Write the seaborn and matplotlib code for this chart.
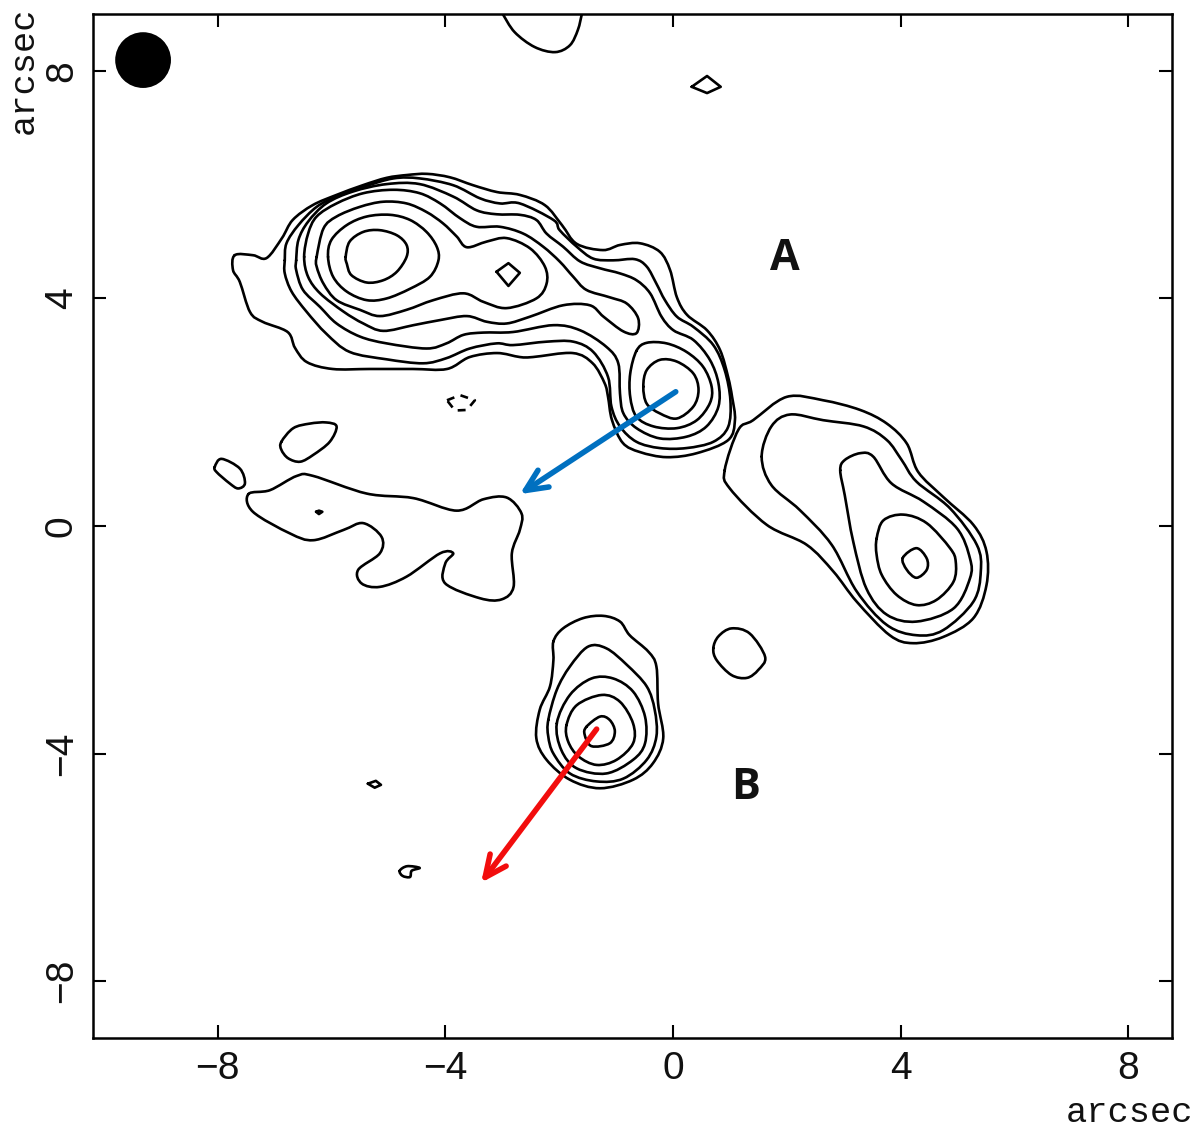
import numpy as np
import pandas as pd
import matplotlib.pyplot as plt
from matplotlib.patches import Circle
from matplotlib.path import Path
from matplotlib.patheffects import AbstractPathEffect
import seaborn as sns

# Contours, in arcsec
lobe_1 = [(-7.70,4.76),(-7.73,4.50),(-7.61,4.29),(-7.43,3.76),(-7.21,3.59),(-6.77,3.41),(-6.64,3.13),(-6.43,2.88),
          (-5.98,2.76),(-5.33,2.76),(-4.57,2.76),(-3.97,2.76),(-3.57,2.97),(-3.09,3.04),(-2.69,2.97),(-2.46,2.97),
          (-1.76,3.04),(-1.41,2.86),(-1.20,2.51),(-1.14,2.27),(-1.07,1.86),(-0.88,1.46),(-0.58,1.30),(-0.11,1.21),
          (0.42,1.28),(0.97,1.51),(1.09,1.86),(1.04,2.27),(0.97,2.62),(0.83,3.09),(0.60,3.44),(0.25,3.71),(0.07,4.02),
          (-0.05,4.50),(-0.23,4.82),(-0.58,4.97),(-0.93,4.94),(-1.23,4.85),(-1.69,4.96),(-1.95,5.29),(-2.25,5.64),
          (-2.69,5.82),(-3.09,5.87),(-3.51,5.99),(-3.92,6.13),(-4.32,6.19),(-4.67,6.17),(-5.03,6.12),(-5.45,5.99),
          (-5.91,5.82),(-6.33,5.64),(-6.68,5.38),(-6.87,5.06),(-7.14,4.71),(-7.38,4.76)]
lobe_2 = [(-6.82,4.67),(-6.79,4.97),(-6.58,5.29),(-6.26,5.61),(-5.91,5.79),(-5.44,5.96),(-4.91,6.11),(-4.45,6.11),
          (-3.86,5.99),(-3.39,5.76),(-3.04,5.67),(-2.69,5.67),(-2.10,5.38),(-1.99,5.20),(-1.69,4.91),(-1.40,4.70),
          (-1.05,4.67),(-0.67,4.69),(-0.46,4.56),(-0.29,4.26),(-0.14,3.97),(0.07,3.68),(0.36,3.50),(0.71,3.18),
          (0.91,2.74),(1.01,2.21),(0.97,1.74),(0.71,1.48),(0.24,1.37),(-0.23,1.37),(-0.64,1.48),(-0.93,1.75),
          (-1.08,2.10),(-1.14,2.62),(-1.40,3.06),(-1.75,3.24),(-2.22,3.24),(-2.81,3.18),(-3.10,3.21),(-3.57,3.12),
          (-3.98,2.95),(-4.39,2.86),(-5.03,2.93),(-5.68,3.06),(-6.09,3.38),(-6.44,3.77),(-6.70,4.12),(-6.82,4.44)]
lobe_3 = [(-6.62,4.67),(-6.58,5.03),(-6.41,5.35),(-6.09,5.67),(-5.62,5.88),(-5.03,6.01),(-4.45,6.01),(-3.86,5.79),
          (-3.45,5.55),(-3.10,5.48),(-2.69,5.47),(-2.40,5.38),(-2.22,5.14),(-1.93,4.91),(-1.63,4.65),(-1.28,4.53),
          (-0.93,4.44),(-0.64,4.32),(-0.40,4.09),(-0.20,3.68),(0.01,3.44),(0.36,3.27),(0.65,2.92),(0.80,2.51),
          (0.80,2.10),(0.59,1.75),(0.24,1.57),(-0.23,1.54),(-0.64,1.72),(-0.87,1.98),(-0.93,2.33),(-0.96,2.86),
          (-1.17,3.15),(-1.63,3.44),(-2.10,3.53),(-2.81,3.41),(-3.33,3.40),(-3.68,3.36),(-3.98,3.21),(-4.33,3.12),
          (-5.03,3.21),(-5.50,3.33),(-5.91,3.56),(-6.20,3.85),(-6.50,4.15),(-6.62,4.50)]
lobe_4 = [(-6.48,4.73),(-6.41,5.14),(-6.26,5.44),(-5.91,5.67),(-5.44,5.85),(-4.91,5.91),(-4.45,5.85),(-4.09,5.67),
          (-3.74,5.41),(-3.45,5.26),(-3.04,5.26),(-2.63,5.14),(-2.28,4.91),(-1.99,4.65),(-1.75,4.38),(-1.52,4.15),
          (-1.11,4.02),(-0.81,3.91),(-0.61,3.65),(-0.64,3.39),(-0.87,3.42),(-1.22,3.68),(-1.46,3.88),(-1.93,3.88),
          (-2.51,3.68),(-2.92,3.56),(-3.27,3.59),(-3.62,3.69),(-4.09,3.62),(-4.56,3.53),(-5.09,3.43),(-5.44,3.56),
          (-5.79,3.77),(-6.20,4.09),(-6.41,4.38)]
lobe_5 = [(-6.26,4.73),(-6.14,5.23),(-5.91,5.44),(-5.50,5.61),(-5.09,5.70),(-4.68,5.67),(-4.33,5.52),(-4.04,5.32),
          (-3.80,5.09),(-3.62,4.90),(-3.27,5.00),(-2.92,5.06),(-2.51,4.88),(-2.25,4.56),(-2.22,4.26),(-2.40,4.00),
          (-2.92,3.83),(-3.33,3.94),(-3.68,4.09),(-4.21,3.97),(-4.68,3.80),(-5.15,3.69),(-5.50,3.80),(-5.91,3.97),
          (-6.14,4.26),(-6.26,4.56)]
lobe_6 = [(-6.06,4.73),(-6.00,5.03),(-5.73,5.29),(-5.38,5.44),(-4.97,5.47),(-4.62,5.38),(-4.33,5.17),(-4.15,4.91),
          (-4.12,4.67),(-4.27,4.38),(-4.62,4.17),(-5.03,4.00),(-5.38,3.97),(-5.73,4.12),(-5.97,4.38)]
lobe_7 = [(-5.75,4.73),(-5.68,5.00),(-5.44,5.17),(-5.15,5.20),(-4.85,5.11),(-4.68,4.94),(-4.68,4.73),(-4.85,4.47),
          (-5.09,4.32),(-5.38,4.28),(-5.65,4.41),(-5.73,4.61)]
lobe_diamond = [(-3.10,4.47),(-2.89,4.62),(-2.69,4.45),(-2.89,4.22)]
core_1 = [(-0.64,3.08),(-0.46,3.22),(-0.11,3.21),(0.24,3.06),(0.53,2.80),(0.68,2.45),(0.65,2.16),(0.42,1.86),
          (0.07,1.72),(-0.34,1.75),(-0.64,1.92),(-0.75,2.27),(-0.75,2.68)]
core_2 = [(-0.52,2.45),(-0.46,2.74),(-0.23,2.92),(0.07,2.89),(0.36,2.68),(0.45,2.39),(0.36,2.10),(0.07,1.89),
          (-0.23,1.98),(-0.46,2.15)]
east_1 = [(0.91,0.98),(1.15,1.69),(1.41,1.86),(2.00,2.27),(2.64,2.21),(3.29,2.04),(3.76,1.80),(4.11,1.45),(4.31,0.95),
          (4.75,0.51),(5.28,0.02),(5.51,-0.45),(5.51,-1.04),(5.28,-1.62),(4.75,-1.95),(4.22,-2.06),(3.81,-1.92),
          (3.23,-1.33),(2.82,-0.80),(2.35,-0.33),(1.65,0.02),(1.00,0.66)]
east_2 = [(1.56,1.22),(1.73,1.75),(2.06,1.96),(2.64,1.86),(3.35,1.75),(3.76,1.51),(4.02,1.16),(4.28,0.78),(4.87,0.31),
          (5.34,-0.33),(5.41,-0.80),(5.28,-1.33),(4.75,-1.83),(4.28,-1.92),(3.76,-1.74),(3.23,-1.15),(2.79,-0.33),
          (2.23,0.28),(1.73,0.72)]
east_3 = [(2.94,0.98),(3.02,1.16),(3.29,1.28),(3.52,1.22),(3.84,0.75),(4.40,0.43),(4.99,-0.04),(5.22,-0.57),
          (5.22,-0.92),(4.93,-1.45),(4.28,-1.68),(3.76,-1.56),(3.40,-1.10),(3.17,-0.28),(3.02,0.54)]
east_4 = [(3.58,-0.22),(3.70,0.10),(4.05,0.20),(4.46,0.05),(4.87,-0.39),(4.97,-0.63),(4.93,-0.98),(4.63,-1.30),
          (4.28,-1.39),(3.93,-1.21),(3.67,-0.86),(3.58,-0.51)]
east_5 = [(4.04,-0.56),(4.28,-0.39),(4.46,-0.57),(4.46,-0.77),(4.28,-0.91),(4.11,-0.77)]
west_blob = [(-7.46,0.56),(-7.08,0.63),(-6.61,0.88),(-6.32,0.88),(-5.38,0.57),(-4.56,0.49),(-3.80,0.27),(-3.33,0.47),
             (-2.92,0.50),(-2.66,0.22),(-2.69,-0.07),(-2.83,-0.48),(-2.80,-1.07),(-3.01,-1.29),(-3.39,-1.27),
             (-4.00,-1.01),(-4.00,-0.66),(-3.86,-0.48),(-4.09,-0.48),(-4.68,-0.89),(-5.15,-1.07),(-5.47,-1.01),
             (-5.53,-0.77),(-5.15,-0.48),(-5.12,-0.19),(-5.44,0.05),(-5.79,-0.07),(-6.32,-0.25),(-6.73,-0.13),(-7.38,0.25)]
west_small = [(-6.88,1.48),(-6.67,1.72),(-6.38,1.80),(-6.09,1.82),(-5.91,1.75),(-6.03,1.48),(-6.32,1.25),(-6.55,1.13),
              (-6.76,1.19),(-6.88,1.34)]
west_tiny = [(-8.05,1.04),(-7.93,1.18),(-7.61,1.01),(-7.52,0.75),(-7.64,0.66),(-7.79,0.75),(-8.02,0.95)]
west_dot = [(-6.27,0.25),(-6.22,0.27),(-6.16,0.25),(-6.22,0.21)]
b_1 = [(-2.10,-2.03),(-1.93,-1.80),(-1.58,-1.62),(-1.22,-1.58),(-0.93,-1.68),(-0.76,-1.92),(-0.43,-2.21),(-0.29,-2.47),
       (-0.26,-3.12),(-0.17,-3.73),(-0.35,-4.17),(-0.70,-4.46),(-1.28,-4.61),(-1.81,-4.46),(-2.22,-4.11),(-2.40,-3.73),
       (-2.34,-3.23),(-2.16,-2.82),(-2.10,-2.36)]
b_2 = [(-2.19,-3.41),(-2.04,-2.88),(-1.81,-2.47),(-1.49,-2.12),(-1.17,-2.15),(-0.81,-2.44),(-0.46,-2.82),(-0.32,-3.23),
       (-0.29,-3.70),(-0.46,-4.11),(-0.87,-4.44),(-1.34,-4.49),(-1.81,-4.35),(-2.10,-4.00),(-2.19,-3.70)]
b_3 = [(-2.04,-3.47),(-1.81,-2.97),(-1.43,-2.68),(-1.05,-2.68),(-0.70,-2.91),(-0.49,-3.35),(-0.49,-3.82),(-0.70,-4.11),
       (-1.17,-4.35),(-1.69,-4.26),(-1.96,-3.94)]
b_4 = [(-1.87,-3.50),(-1.69,-3.15),(-1.25,-2.97),(-0.93,-3.09),(-0.70,-3.47),(-0.70,-3.82),(-0.99,-4.11),(-1.34,-4.20),
       (-1.66,-4.05),(-1.84,-3.79)]
b_5 = [(-1.52,-3.53),(-1.28,-3.35),(-1.11,-3.41),(-1.02,-3.61),(-1.11,-3.82),(-1.43,-3.87),(-1.55,-3.67)]
round_blob = [(0.71,-2.15),(0.80,-1.94),(1.03,-1.80),(1.35,-1.89),(1.62,-2.30),(1.50,-2.53),(1.30,-2.67),(1.03,-2.62),
              (0.77,-2.36)]
top_diamond = [(0.33,7.72),(0.60,7.91),(0.84,7.72),(0.60,7.61)]
south_a = [(-5.36,-4.53),(-5.22,-4.48),(-5.13,-4.55),(-5.24,-4.60)]
south_b = [(-4.80,-6.06),(-4.67,-5.98),(-4.45,-6.01),(-4.59,-6.06),(-4.62,-6.17),(-4.75,-6.15)]
top_arc = [(-2.99,9.00),(-2.78,8.68),(-2.43,8.42),(-2.07,8.33),(-1.81,8.45),(-1.67,8.72),(-1.60,9.00)]
negative = [(-3.97,2.21),(-3.74,2.30),(-3.48,2.21),(-3.62,2.04),(-3.83,2.03)]

closed_contours = [lobe_1, lobe_2, lobe_3, lobe_4, lobe_5, lobe_6, lobe_7, lobe_diamond, core_1, core_2,
                   east_1, east_2, east_3, east_4, east_5, west_blob, west_small, west_tiny, west_dot,
                   b_1, b_2, b_3, b_4, b_5, round_blob, top_diamond, south_a, south_b]

beam = (-9.31, 8.19)
beam_radius = 0.49
tick_values = [-8, -4, 0, 4, 8]
tick_labels = ['\u22128', '\u22124', '0', '4', '8']
blue_arrow = [(0.05, 2.36), (-2.69, 0.56)]
red_arrow = [(-1.34, -3.57), (-3.37, -6.27)]
source_labels = [('A', 1.97, 4.71), ('B', 1.27, -4.60)]


def to_frame(contours, close=True):
    rows = []
    for i, pts in enumerate(contours):
        path = pts + pts[:1] if close else pts
        rows += [(i, x, y) for x, y in path]
    return pd.DataFrame(rows, columns=['contour', 'x', 'y'])


# draws a line as a curve through its own vertices, short diamonds stay straight
class SmoothLine(AbstractPathEffect):
    def draw_path(self, renderer, gc, tpath, affine, rgbFace=None):
        v = np.asarray(tpath.vertices)
        if len(v) >= 7:
            closed = np.allclose(v[0], v[-1])
            if closed:
                p = np.vstack([v[-2], v, v[1]])
            else:
                p = np.vstack([v[0], v, v[-1]])
            c1 = p[1:-2] + (p[2:-1] - p[:-3]) / 6
            c2 = p[2:-1] - (p[3:] - p[1:-2]) / 6
            verts = [p[1]]
            for a, b, e in zip(c1, c2, p[2:-1]):
                verts += [a, b, e]
            codes = [Path.MOVETO] + [Path.CURVE4] * (len(verts) - 1)
            tpath = Path(np.array(verts), codes)
        renderer.draw_path(gc, tpath, affine, rgbFace)


sns.set_theme(style='white')
plt.rcParams['font.family'] = ['Liberation Mono', 'DejaVu Sans Mono']

fig = plt.figure(figsize=(12, 11.29), dpi=100)
ax = fig.add_axes([93/1200, 91/1129, 1079/1200, 1024/1129])

for frame, ls in [(to_frame(closed_contours), '-'), (to_frame([top_arc], close=False), '-'),
                  (to_frame([negative]), (0, (3, 2.5)))]:
    sns.lineplot(data=frame, x='x', y='y', units='contour', estimator=None, sort=False,
                 color='black', linewidth=1.9, linestyle=ls, legend=False, ax=ax)
for line in ax.lines:
    line.set_path_effects([SmoothLine()])

ax.add_patch(Circle(beam, beam_radius, color='black', lw=0))

for (start, end), col in [(blue_arrow, '#0070c0'), (red_arrow, '#f20d0d')]:
    ax.annotate('', xy=end, xytext=start,
                arrowprops=dict(arrowstyle='->,head_length=1.3,head_width=0.6', color=col, lw=4,
                                shrinkA=0, shrinkB=0))

for name, x, y in source_labels:
    ax.text(x, y, name, fontsize=31, fontweight='bold', family='Open Sans', ha='center', va='center', color='#111111')

ax.set_xlim(-10.19, 8.77)
ax.set_ylim(-9, 9)
ax.set_xticks(tick_values, tick_labels)
ax.set_yticks(tick_values, tick_labels)
ax.set_xlabel('')
ax.set_ylabel('')
ax.tick_params(direction='in', length=9.5, width=1.5, color='black', top=True, right=True, left=True, bottom=True,
               labelsize=28, labelcolor='#111111')
ax.tick_params(axis='x', pad=9.5)
ax.tick_params(axis='y', pad=9.5)
for lab in ax.get_xticklabels() + ax.get_yticklabels():
    lab.set_family('Liberation Sans')
for lab in ax.get_yticklabels():
    lab.set_rotation(90)
    lab.set_va('center')
for s in ax.spines.values():
    s.set_visible(True)
    s.set_color('black')
    s.set_linewidth(1.8)

fig.text(1193/1200, 1-1112/1129, 'arcsec', fontsize=25.5, ha='right', va='center', color='#111111')
fig.text(23/1200, 1-70/1129, 'arcsec', fontsize=25.5, rotation=90, ha='center', va='center', color='#111111')

fig.savefig('out.png', dpi=100)
